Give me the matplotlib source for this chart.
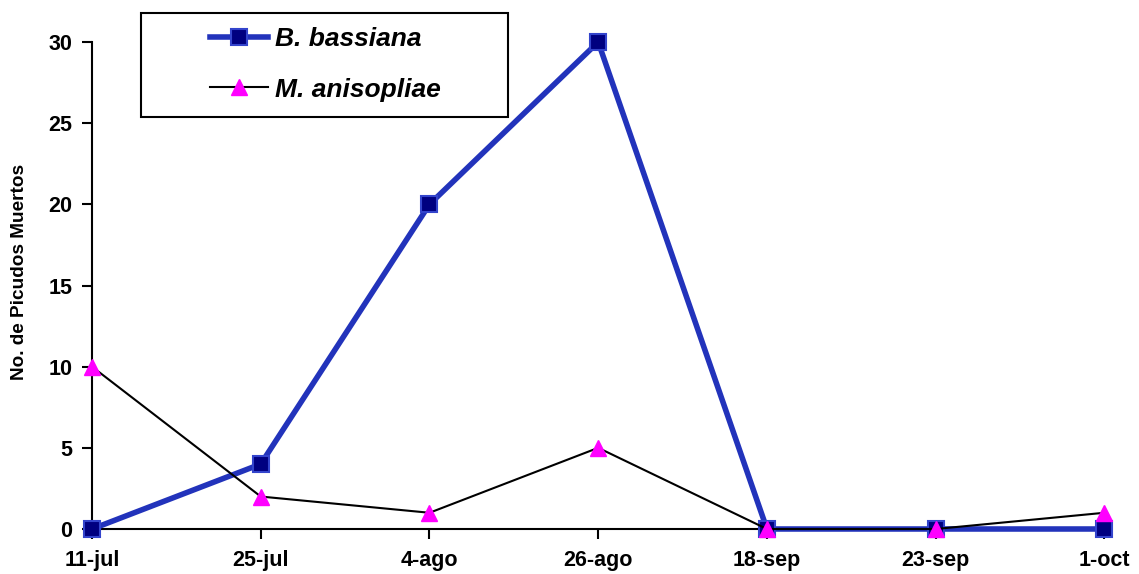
import matplotlib.pyplot as plt
from matplotlib.patches import Rectangle

# Datos
fechas = ['11-jul', '25-jul', '4-ago', '26-ago', '18-sep', '23-sep', '1-oct']
b_bassiana = [0, 4, 20, 30, 0, 0, 0]
m_anisopliae = [10, 2, 1, 5, 0, 0, 1]

plt.rcParams['font.family'] = ['Liberation Sans', 'DejaVu Sans']

fig = plt.figure(figsize=(11.39, 5.74), dpi=100)
ax = fig.add_axes([0.0808, 0.0784, 0.8888, 0.8484])

x = range(len(fechas))
ax.plot(x, b_bassiana, color='#2233bb', linewidth=4, marker='s', markersize=11,
        markerfacecolor='#000080', markeredgecolor='#3344cc', markeredgewidth=1.5,
        label='B. bassiana', zorder=3, clip_on=False)
ax.plot(x, m_anisopliae, color='black', linewidth=1.5, marker='^', markersize=11,
        markerfacecolor='#ff00ff', markeredgecolor='#ff00ff',
        label='M. anisopliae', zorder=4, clip_on=False)

ax.set_xlim(0, 6)
ax.set_ylim(0, 30)
ax.set_xticks(list(x))
ax.set_xticklabels(fechas)
ax.set_yticks([0, 5, 10, 15, 20, 25, 30])
for s in ['top', 'right']:
    ax.spines[s].set_visible(False)
for s in ['left', 'bottom']:
    ax.spines[s].set_linewidth(1.5)
ax.tick_params(axis='both', direction='out', length=7, width=1.5, labelsize=15.5)
ax.tick_params(axis='x', pad=8)
ax.tick_params(axis='y', pad=7)
for lbl in ax.get_xticklabels() + ax.get_yticklabels():
    lbl.set_fontweight('bold')
ax.set_ylabel('No. de Picudos Muertos', fontsize=13.7, fontweight='bold')
ax.yaxis.set_label_coords(-0.063, 0.528)

# leyenda con marco propio
fig.patches.append(Rectangle((141 / 1139, 1 - 117 / 574), 367 / 1139, 104 / 574,
                             transform=fig.transFigure, fill=False,
                             edgecolor='black', linewidth=1.5))
leg = ax.legend(loc='center left', bbox_to_anchor=(210 / 1139, 1 - 64.5 / 574),
                bbox_transform=fig.transFigure, frameon=False, borderpad=0,
                borderaxespad=0, handlelength=2.2, handletextpad=0.25,
                labelspacing=1.0,
                prop={'size': 19, 'weight': 'bold', 'style': 'italic'})

fig.savefig('out.png', dpi=100)
